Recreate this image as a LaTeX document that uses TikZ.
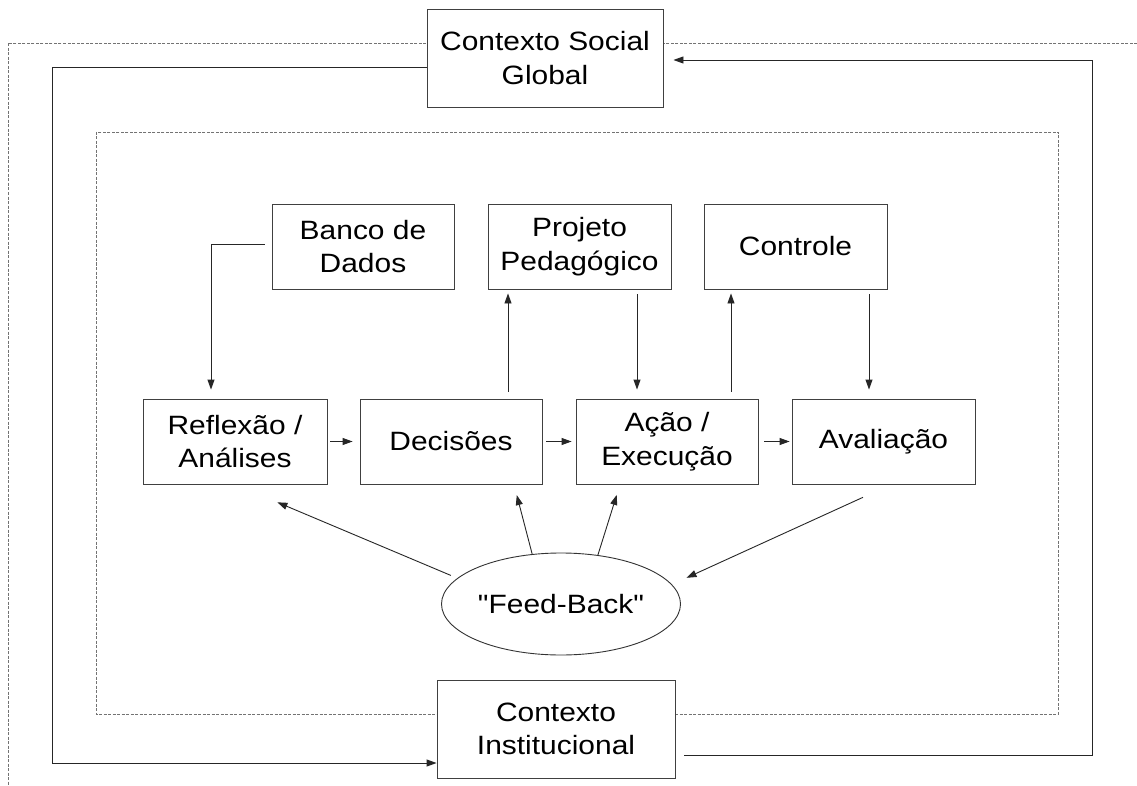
\documentclass[tikz,border=0pt]{standalone}
\usepackage{fontspec}
\newfontfamily\af[FakeStretch=1.13]{Liberation Sans}
\usetikzlibrary{arrows.meta,shapes.geometric}
\begin{document}
\begin{tikzpicture}[x=1pt,y=-1pt,
  txt/.style={font=\af\fontsize{26.5}{33.5}\selectfont},
  box/.style={txt,draw=black!75,line width=0.9pt,fill=white,inner sep=0pt,align=center},
  conn/.style={draw=black!85,line width=0.9pt,-{Triangle[length=10pt,width=7pt]}},
  dashline/.style={draw=black!55,line width=0.8pt,dash pattern=on 3pt off 1.5pt}]
\useasboundingbox (0,0) rectangle (1137,786);
\fill[white] (0,0) rectangle (1137,786);

% dashed frames
\draw[dashline] (1137,43) -- (8,43) -- (8,786);
\draw[dashline] (96,132) rectangle (1058,714);

% nodes
\node[box,minimum width=236pt,minimum height=98pt] (social) at (545,58) {Contexto Social\\Global};
\node[box,minimum width=238pt,minimum height=98pt] (inst) at (556,729) {Contexto\\Institucional};

\node[box,minimum width=182pt,minimum height=85pt] (banco) at (363,246.5) {Banco de\\Dados};
\node[box,minimum width=183pt,minimum height=85pt] (projeto) at (579.5,246.5) {Projeto\\Pedagógico};
\node[box,minimum width=183pt,minimum height=85pt] (controle) at (795.5,246.5) {Controle};

\node[box,minimum width=184pt,minimum height=85pt] (reflexao) at (235,441.5) {Reflexão /\\Análises};
\node[box,minimum width=182pt,minimum height=85pt] (decisoes) at (451,441.5) {Decisões};
\node[box,minimum width=182pt,minimum height=85pt] (acao) at (667,441.5) {Ação /\\Execução};
\node[box,minimum width=183pt,minimum height=85pt] (avaliacao) at (883.5,441.5) {Avaliação};

\node[txt,ellipse,draw=black!80,line width=0.9pt,inner sep=0pt,minimum width=239pt,minimum height=102pt] (fb) at (561,604) {"Feed-Back"};

% x positions of vertical connectors
\coordinate (xdp) at (508,0);
\coordinate (xpa) at (637,0);
\coordinate (xac) at (731,0);
\coordinate (xcv) at (869,0);

% outer loop
\draw[conn] ([yshift=-9pt]social.west) -| (52,763) -- ([yshift=-34pt]inst.west);
\draw[conn,shorten >=10pt] ([xshift=9pt,yshift=-26pt]inst.east) -| (1092,60) -- ([yshift=-2pt]social.east);

% inner connectors
\draw[conn,shorten >=9pt] ([xshift=-7pt,yshift=2.5pt]banco.west) -| ([xshift=-24pt]reflexao.north);
\draw[conn,shorten <=7pt,shorten >=4pt] (decisoes.north -| xdp) -- (projeto.south -| xdp);
\draw[conn,shorten <=5pt,shorten >=9pt] (projeto.south -| xpa) -- (acao.north -| xpa);
\draw[conn,shorten <=7pt,shorten >=4pt] (acao.north -| xac) -- (controle.south -| xac);
\draw[conn,shorten <=5pt,shorten >=9pt] (controle.south -| xcv) -- (avaliacao.north -| xcv);

\draw[conn,shorten <=3pt,shorten >=7pt] (reflexao.east) -- (decisoes.west);
\draw[conn,shorten <=4pt,shorten >=4pt] (decisoes.east) -- (acao.west);
\draw[conn,shorten <=6pt,shorten >=2pt] (acao.east) -- (avaliacao.west);

% feedback
\draw[conn,shorten <=7pt,shorten >=46pt] (fb.166) -- (reflexao.south);
\draw[conn,shorten >=11pt] (fb.120) -- ([xshift=63pt]decisoes.south);
\draw[conn,shorten >=11pt] (fb.53) -- ([xshift=-47pt]acao.south);
\draw[conn,shorten <=31pt,shorten >=16pt] ([xshift=7.7pt]avaliacao.south) -- (fb.10);
\end{tikzpicture}
\end{document}
